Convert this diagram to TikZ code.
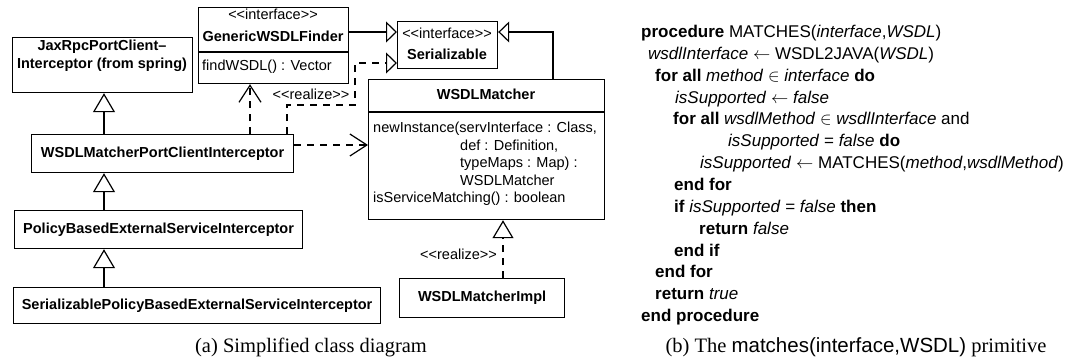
\documentclass[tikz,border=0pt]{standalone}
\usepackage{fontspec}
\setmainfont{Liberation Serif}
\setsansfont{Liberation Sans}
\usetikzlibrary{arrows.meta}
\newcommand{\stereo}[1]{<\kern0pt<#1>\kern0pt>}

\begin{document}
\begin{tikzpicture}[x=1pt,y=-1pt,
  box/.style={draw,line width=1.2pt,inner sep=0pt,anchor=north west},
  cbold/.style={font=\sffamily\bfseries\fontsize{14.5}{18.5}\selectfont},
  cname/.style={cbold,text height=10.5pt,text depth=3pt},
  cline/.style={font=\sffamily\fontsize{14.5}{18}\selectfont,inner sep=0pt,text height=10.5pt,text depth=3pt},
  algl/.style={anchor=west,inner sep=0pt,font=\sffamily\fontsize{17}{20}\selectfont,text height=12.5pt,text depth=3.5pt},
  captxt/.style={font=\fontsize{20.5}{24}\selectfont},
  gen/.style={line width=1.2pt,-{Triangle[open,length=19pt,width=22pt,line width=1.2pt]}},
  sgen/.style={line width=2.4pt,line join=miter,-{Triangle[open,length=11pt,width=21pt,line width=1.2pt]}},
  real/.style={line width=1.2pt,dash pattern=on 7pt off 6pt,-{Triangle[open,length=11pt,width=21pt,line width=1.2pt]}},
  realbig/.style={line width=1.2pt,dash pattern=on 7pt off 6pt,-{Triangle[open,length=18pt,width=21pt,line width=1.2pt]}},
  dep/.style={line width=1.2pt,dash pattern=on 7pt off 6pt,-{Straight Barb[length=17pt,width=22pt,line width=1.2pt]}}
]
\useasboundingbox (0,0) rectangle (1075,361);

% classes
\node[box,minimum width=180pt,minimum height=55pt] (jax) at (12,37) {};
\node[cbold,align=center] (jaxname) at (102,56) {JaxRpcPortClient–\\Interceptor (from spring)};

\node[box,minimum width=150pt,minimum height=76pt] (finder) at (198,7) {};
\node[cline] (finderst) at (273,16) {\stereo{interface}};
\node[cname] (findername) at (273,38) {GenericWSDLFinder};
\coordinate (fdiv) at (0,52);
\draw[line width=1.2pt] (finder.west |- fdiv) -- (finder.east |- fdiv);
\node[cline,anchor=west] (finderop) at (202,67) {findWSDL() : Vector};

\node[box,minimum width=100pt,minimum height=47pt] (ser) at (397,21) {};
\node[cline] (serst) at (447,35) {\stereo{interface}};
\node[cname] (sername) at (447,56) {Serializable};

\node[box,minimum width=236pt,minimum height=140pt] (matcher) at (368,79) {};
\node[cname] (matchername) at (486,96) {WSDLMatcher};
\coordinate (mdiv) at (0,112);
\draw[line width=1.2pt] (matcher.west |- mdiv) -- (matcher.east |- mdiv);
\node[cline,anchor=west] (op1) at (373,129) {newInstance(servInterface : Class,};
\node[cline,anchor=west] (op1b) at (460,146.5) {def : Definition,};
\node[cline,anchor=west] (op1c) at (460,164) {typeMaps : Map) :};
\node[cline,anchor=west] (op1d) at (460,181.5) {WSDLMatcher};
\node[cline,anchor=west] (op2) at (373,199) {isServiceMatching() : boolean};

\node[box,cname,minimum width=262pt,minimum height=38pt] (port) at (31,134) {WSDLMatcherPortClientInterceptor};
\node[box,cname,minimum width=288pt,minimum height=38pt] (policy) at (14,210) {PolicyBasedExternalServiceInterceptor};
\node[box,cname,minimum width=367pt,minimum height=36pt] (serpol) at (13,287) {SerializablePolicyBasedExternalServiceInterceptor};
\node[box,cname,minimum width=165pt,minimum height=39pt] (impl) at (399,278) {WSDLMatcherImpl};

% relations
\coordinate (gx) at (104,0);
\draw[gen] (port.north -| gx) -- (jax.south -| gx);
\draw[gen] (policy.north -| gx) -- (port.south -| gx);
\draw[gen] (serpol.north -| gx) -- (policy.south -| gx);

\coordinate (sy) at (0,32);
\draw[sgen] (finder.east |- sy) -- (ser.west |- sy);
\coordinate (mx) at (553,32);
\draw[sgen] (matcher.north -| mx) -- (mx) -- (ser.east |- mx);

\coordinate (rA) at (287,105);
\coordinate (rB) at (355,63);
\draw[real] (port.north -| rA) -- (rA) -| (rB) -- (ser.west |- rB);
\node[cline] (reallbl) at (311,96) {\stereo{realize}};

\coordinate (dA) at (250,0);
\draw[dep] (port.north -| dA) -- (finder.south -| dA);
\coordinate (dB) at (0,145);
\draw[dep] (port.east |- dB) -- (matcher.west |- dB);

\coordinate (iA) at (503,0);
\draw[realbig] (impl.north -| iA) -- (matcher.south -| iA);
\node[cline,anchor=east] (impllbl) at (497,256) {\stereo{realize}};

% algorithm
\node[algl] (l1) at (641,33) {\textbf{procedure} MATCHES(\textit{interface},\textit{WSDL})};
\node[algl] (l2) at (648,55) {\textit{wsdlInterface} $\leftarrow$ WSDL2JAVA(\textit{WSDL})};
\node[algl] (l3) at (655,77) {\textbf{for all} \textit{method} $\in$ \textit{interface} \textbf{do}};
\node[algl] (l4) at (675,98.5) {\textit{isSupported} $\leftarrow$ \textit{false}};
\node[algl] (l5) at (673,120) {\textbf{for all} \textit{wsdlMethod} $\in$ \textit{wsdlInterface} and};
\node[algl] (l6) at (728,142) {\textit{isSupported} = \textit{false} \textbf{do}};
\node[algl] (l7) at (700,164) {\textit{isSupported} $\leftarrow$ MATCHES(\textit{method},\textit{wsdlMethod})};
\node[algl] (l8) at (674,186) {\textbf{end for}};
\node[algl] (l9) at (674,208) {\textbf{if} \textit{isSupported} = \textit{false} \textbf{then}};
\node[algl] (l10) at (699,230) {\textbf{return} \textit{false}};
\node[algl] (l11) at (674,251.5) {\textbf{end if}};
\node[algl] (l12) at (655,273) {\textbf{end for}};
\node[algl] (l13) at (655,295) {\textbf{return} \textit{true}};
\node[algl] (l14) at (641,317) {\textbf{end procedure}};

% captions
\node[captxt] (capa) at (311,347) {(a) Simplified class diagram};
\node[captxt] (capb) at (856,347) {(b) The \textsf{matches(interface,WSDL)} primitive};
\end{tikzpicture}
\end{document}
